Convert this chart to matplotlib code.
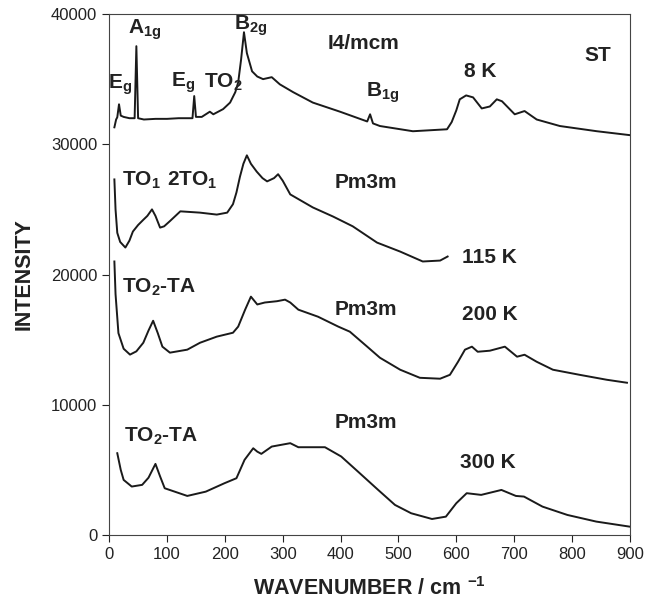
import matplotlib
matplotlib.use('Agg')
import matplotlib.pyplot as plt

plt.rcParams['font.family'] = ['Liberation Sans', 'DejaVu Sans']
plt.rcParams['mathtext.fontset'] = 'custom'
plt.rcParams['mathtext.rm'] = 'Liberation Sans:bold'
plt.rcParams['mathtext.it'] = 'Liberation Sans:bold'
plt.rcParams['mathtext.bf'] = 'Liberation Sans:bold'
plt.rcParams['mathtext.default'] = 'rm'

# spectra (wavenumber, intensity)
x8 = [9, 12, 14, 17, 20, 25, 35, 44, 47, 50, 60, 80, 100, 120, 140, 144, 147, 150, 160,
      174, 180, 197, 209, 218, 223, 228, 233, 238, 247, 256, 266, 281, 295, 318, 352, 399,
      446, 451, 456, 468, 525, 584, 592, 600, 606, 617, 629, 644, 658, 670, 679, 690, 701,
      718, 739, 779, 843, 900]
y8 = [31300, 31900, 32070, 33070, 32200, 32100, 32000, 32000, 37530, 32000, 31900, 31950,
      31950, 32000, 32000, 32000, 33700, 32100, 32100, 32500, 32300, 32700, 33200, 34000,
      34750, 36500, 38600, 37000, 35600, 35200, 35000, 35150, 34600, 34000, 33200, 32500,
      31750, 32300, 31600, 31400, 31000, 31150, 31700, 32600, 33450, 33750, 33600, 32750,
      32900, 33450, 33300, 32800, 32300, 32550, 31900, 31400, 31000, 30700]

x115 = [9, 11, 14, 19, 28, 35, 41, 50, 59, 66, 74, 80, 88, 95, 105, 123, 140, 157, 186,
        204, 214, 220, 226, 232, 238, 245, 255, 265, 273, 285, 292, 300, 313, 352, 387,
        421, 463, 503, 542, 572, 585]
y115 = [27300, 25000, 23200, 22500, 22070, 22600, 23300, 23800, 24200, 24500, 25000,
        24500, 23600, 23700, 24100, 24850, 24800, 24750, 24600, 24750, 25400, 26300,
        27500, 28500, 29150, 28500, 27900, 27400, 27150, 27400, 27700, 27200, 26150,
        25150, 24450, 23700, 22450, 21760, 21000, 21070, 21380]

x200 = [9, 11, 16, 25, 36, 47, 59, 68, 76, 84, 92, 105, 135, 157, 186, 214, 223, 235,
        245, 256, 269, 290, 304, 313, 327, 361, 396, 416, 446, 468, 503, 537, 572, 589,
        603, 615, 627, 637, 658, 684, 705, 718, 739, 767, 813, 860, 895]
y200 = [21000, 18500, 15500, 14300, 13850, 14100, 14760, 15700, 16450, 15500, 14460,
        14000, 14230, 14760, 15230, 15530, 16000, 17300, 18300, 17700, 17850, 17950,
        18070, 17850, 17300, 16760, 16000, 15610, 14460, 13610, 12690, 12070, 12000,
        12300, 13300, 14230, 14460, 14070, 14150, 14460, 13690, 13840, 13300, 12690,
        12300, 11920, 11690]

x300 = [14, 20, 25, 39, 57, 68, 80, 88, 96, 135, 167, 199, 220, 234, 249, 256, 263, 281,
        313, 327, 373, 401, 430, 465, 494, 522, 558, 582, 600, 618, 643, 678, 703, 717,
        749, 792, 842, 900]
y300 = [6280, 5000, 4230, 3720, 3850, 4400, 5460, 4500, 3590, 3000, 3330, 3970, 4360,
        5770, 6660, 6400, 6230, 6790, 7050, 6740, 6740, 6030, 4870, 3460, 2310, 1670,
        1230, 1410, 2440, 3210, 3080, 3460, 3000, 2950, 2180, 1540, 1030, 640]

# annotations: text, x, y
labels = [
    (r'E$_{g}$', 19, 34600), (r'A$_{1g}$', 62, 38800), (r'E$_{g}$', 128, 34750),
    (r'TO$_{2}$', 197, 34750), (r'B$_{2g}$', 244, 39100), ('I4/mcm', 440, 37700),
    (r'B$_{1g}$', 472, 33950), ('8 K', 641, 35600), ('ST', 845, 36800),
    (r'TO$_{1}$', 55, 27200), (r'2TO$_{1}$', 143, 27200), ('Pm3m', 444, 27100),
    ('115 K', 658, 21300),
    (r'TO$_{2}$-TA', 87, 19000), ('Pm3m', 444, 17300), ('200 K', 658, 16900),
    (r'TO$_{2}$-TA', 90, 7600), ('Pm3m', 444, 8600), ('300 K', 655, 5600),
]

fig = plt.figure(figsize=(6.46, 6.09), dpi=100)
ax = fig.add_axes([0.169, 0.1215, 0.806, 0.8555])

for xs, ys in [(x8, y8), (x115, y115), (x200, y200), (x300, y300)]:
    ax.plot(xs, ys, color='#1a1a1a', lw=1.4)

for txt, tx, ty in labels:
    ax.text(tx, ty, txt, fontsize=15, fontweight='bold', color='#222222',
            ha='center', va='center')

ax.set_xlim(0, 900)
ax.set_ylim(0, 40000)
ax.set_xticks(range(0, 901, 100))
ax.set_yticks(range(0, 40001, 10000))
ax.tick_params(direction='out', length=5, width=0.8, labelsize=12, colors='#222222')
for s in ax.spines.values():
    s.set_linewidth(0.8)
    s.set_color('#444444')

ax.set_xlabel(r'WAVENUMBER / cm $^{-1}$', fontsize=15.5, fontweight='bold',
              color='#222222', labelpad=11)
ax.set_ylabel('INTENSITY', fontsize=15.5, fontweight='bold', color='#222222',
              labelpad=12)

fig.savefig('out.png', dpi=100)
